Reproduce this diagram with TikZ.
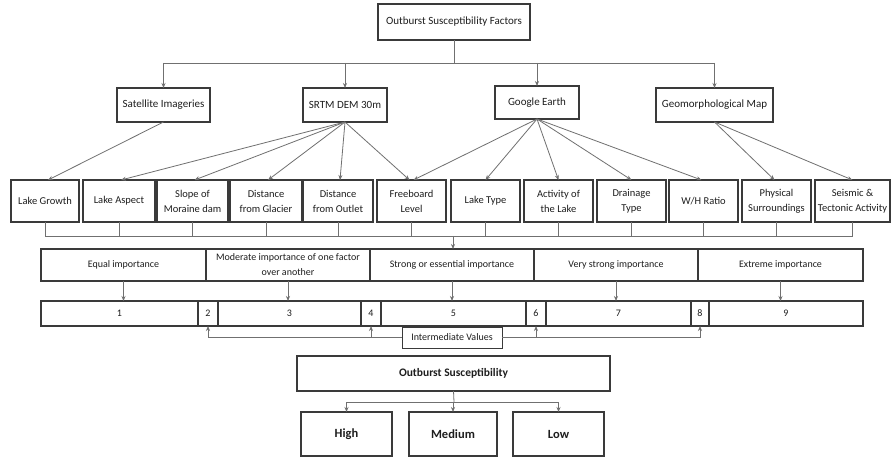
\documentclass[tikz,border=0pt]{standalone}
\usepackage{fontspec}
\setmainfont{Carlito}
\usetikzlibrary{arrows.meta,calc}
\definecolor{boxc}{HTML}{3A3A3A}
\definecolor{linec}{HTML}{707070}
\definecolor{txtc}{HTML}{1E1E1E}
\begin{document}
\begin{tikzpicture}[x=1pt,y=-1pt,
  bx/.style={draw=boxc, line width=1.1pt, inner sep=1pt, outer sep=0pt, align=center,
    text=txtc, font=\fontsize{10.5}{15}\selectfont},
  srcbox/.style={bx, font=\fontsize{11}{14}\selectfont},
  impbox/.style={bx, font=\fontsize{10}{15}\selectfont},
  numbox/.style={bx, font=\fontsize{10}{12}\selectfont},
  bigbox/.style={bx, font=\fontsize{12.5}{15}\selectfont\bfseries},
  conn/.style={draw=linec, line width=0.8pt},
  arr/.style={conn, -{Stealth[length=5pt,width=4pt]}}]
\useasboundingbox (0,0) rectangle (892,457);
\fill[white] (0,0) rectangle (892,457);

% top
\node[srcbox, minimum width=152pt, minimum height=36pt] (top) at (454,22) {Outburst Susceptibility Factors};

% sources
\node[srcbox, minimum width=93pt, minimum height=34pt] (sat) at (163.5,105) {Satellite Imageries};
\node[srcbox, minimum width=84pt, minimum height=34pt] (srtm) at (345,105) {SRTM DEM 30m};
\node[srcbox, minimum width=84pt, minimum height=33pt] (ge) at (537,102.5) {Google Earth};
\node[srcbox, minimum width=117pt, minimum height=34pt] (geo) at (714.5,105) {Geomorphological Map};

% factors
\node[bx, minimum width=68pt, minimum height=42pt] (f1) at (45,201) {Lake Growth};
\node[bx, minimum width=72pt, minimum height=42pt] (f2) at (119,201) {Lake Aspect};
\node[bx, minimum width=71pt, minimum height=42pt] (f3) at (192.5,201) {Slope of\\Moraine dam};
\node[bx, minimum width=72pt, minimum height=42pt] (f4) at (266,201) {Distance\\from Glacier};
\node[bx, minimum width=70pt, minimum height=42pt] (f5) at (338,201) {Distance\\from Outlet};
\node[bx, minimum width=69pt, minimum height=42pt] (f6) at (411.5,201) {Freeboard\\Level};
\node[bx, minimum width=69pt, minimum height=42pt] (f7) at (485.5,201) {Lake Type};
\node[bx, minimum width=69pt, minimum height=42pt] (f8) at (558.5,201) {Activity of\\the Lake};
\node[bx, minimum width=69pt, minimum height=42pt] (f9) at (631.5,201) {Drainage\\Type};
\node[bx, minimum width=69pt, minimum height=42pt] (f10) at (703.5,201) {W/H Ratio};
\node[bx, minimum width=69pt, minimum height=42pt] (f11) at (776.5,201) {Physical\\Surroundings};
\node[bx, minimum width=75pt, minimum height=42pt] (f12) at (852.5,201) {Seismic \&\\Tectonic Activity};

% importance row
\node[impbox, minimum width=165pt, minimum height=32pt] (i1) at (123.5,265) {Equal importance};
\node[impbox, minimum width=164pt, minimum height=32pt] (i2) at (288,265) {Moderate importance of one factor\\over another};
\node[impbox, minimum width=164pt, minimum height=32pt] (i3) at (452,265) {Strong or essential importance};
\node[impbox, minimum width=164pt, minimum height=32pt] (i4) at (616,265) {Very strong importance};
\node[impbox, minimum width=165pt, minimum height=32pt] (i5) at (780.5,265) {Extreme importance};

% numbers row
\node[numbox, minimum width=157pt, minimum height=25pt] (n1) at (119.5,313.5) {1};
\node[numbox, minimum width=20pt, minimum height=25pt] (n2) at (208,313.5) {2};
\node[numbox, minimum width=143pt, minimum height=25pt] (n3) at (289.5,313.5) {3};
\node[numbox, minimum width=20pt, minimum height=25pt] (n4) at (371,313.5) {4};
\node[numbox, minimum width=145pt, minimum height=25pt] (n5) at (453.5,313.5) {5};
\node[numbox, minimum width=20pt, minimum height=25pt] (n6) at (536,313.5) {6};
\node[numbox, minimum width=145pt, minimum height=25pt] (n7) at (618.5,313.5) {7};
\node[numbox, minimum width=18pt, minimum height=25pt] (n8) at (700,313.5) {8};
\node[numbox, minimum width=154pt, minimum height=25pt] (n9) at (786,313.5) {9};

\node[impbox, line width=0.9pt, minimum width=100pt, minimum height=21pt] (iv) at (452,337.5) {Intermediate Values};

% outcome
\node[bigbox, font=\fontsize{11.5}{14}\selectfont\bfseries, minimum width=313pt, minimum height=35pt] (os) at (453.5,373.5) {Outburst Susceptibility};
\node[bigbox, minimum width=91pt, minimum height=44pt] (high) at (346.5,434) {High};
\node[bigbox, minimum width=88pt, minimum height=44pt] (med) at (453,434) {Medium};
\node[bigbox, minimum width=91pt, minimum height=44pt] (low) at (558.5,434) {Low};

% top distribution
\coordinate (hub) at (454,63);
\draw[conn] (top.south) -- (hub);
\draw[conn] (sat.north |- hub) -- (geo.north |- hub);
\foreach \s in {sat,srtm,ge,geo} \draw[arr] (\s.north |- hub) -- (\s.north);

% source to factors
\draw[arr] (sat.south) -- ($(f1.north)+(3,0)$);
\foreach \t in {f2,f3,f4,f5} \draw[arr] (srtm.south) -- ($(\t.north)+(2,0)$);
\draw[arr] (srtm.south) -- ($(f6.north)+(-2,0)$);
\draw[arr] (ge.south) -- ($(f6.north)+(2,0)$);
\foreach \t in {f7,f8,f9} \draw[arr] (ge.south) -- (\t.north);
\draw[arr] (ge.south) -- ($(f10.north)+(-2,0)$);
\draw[arr] (geo.south) -- ($(f11.north)+(-2,0)$);
\draw[arr] (geo.south) -- (f12.north);

% factor bus
\coordinate (bus) at (453,236);
\foreach \t in {f1,f2,f3,f4,f5,f6,f7,f8,f9,f10,f11,f12} \draw[conn] (\t.south) -- (\t.south |- bus);
\draw[conn] (f1.south |- bus) -- (f12.south |- bus);
\draw[arr] (bus) -- (bus |- i3.north);

% importance to numbers
\foreach \a/\b in {i1/n1,i2/n3,i3/n5,i4/n7,i5/n9} \draw[arr] (\a.south) -- (\a.south |- \b.north);

% intermediate values
\draw[arr] (iv.west) -| (n2.south);
\draw[arr] (iv.west -| n4.south) -- (n4.south);
\draw[arr] (iv.east) -| (n8.south);
\draw[arr] (iv.east -| n6.south) -- (n6.south);

% outcome distribution
\coordinate (ob) at (454,402);
\draw[conn] (os.south) -- (ob);
\draw[conn] (high.north |- ob) -- (low.north |- ob);
\foreach \t in {high,med,low} \draw[arr] (\t.north |- ob) -- (\t.north);
\end{tikzpicture}
\end{document}
